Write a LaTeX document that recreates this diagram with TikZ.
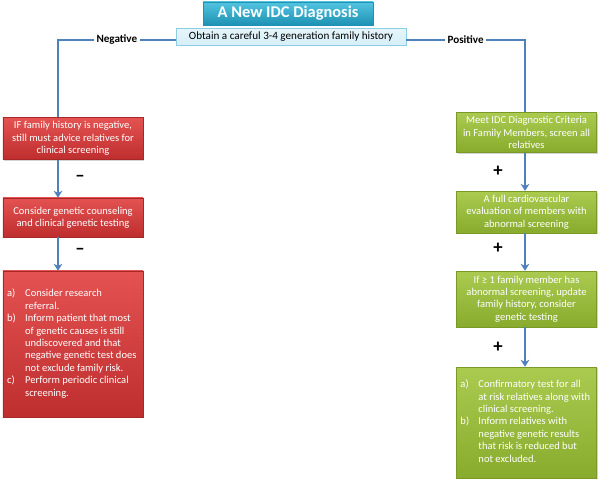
\documentclass[tikz,border=0pt]{standalone}
\usepackage{xcolor}
\usepackage{fontspec}
\setmainfont{Carlito}
\usetikzlibrary{shapes,arrows.meta,positioning,calc,shadows}

\definecolor{flowblue}{HTML}{4F81BD}
\definecolor{titletop}{HTML}{52C4E0}
\definecolor{titlebottom}{HTML}{1E92B4}
\definecolor{historyfill}{HTML}{D6EEF8}
\definecolor{historyline}{HTML}{8CCDE6}
\definecolor{redtop}{HTML}{E45252}
\definecolor{redbottom}{HTML}{BF2E2E}
\definecolor{redline}{HTML}{A82828}
\definecolor{greentop}{HTML}{AACB50}
\definecolor{greenbottom}{HTML}{88AB2D}
\definecolor{greenline}{HTML}{7A9A28}

\begin{document}
\begin{tikzpicture}[x=0.03cm, y=-0.03cm,
    boxfont/.style={font=\fontsize{9}{10.6}\selectfont},
    casebox/.style={rectangle, minimum width=4.2cm, align=center, text=white, boxfont,
        drop shadow={shadow xshift=1pt, shadow yshift=-1.2pt, opacity=0.35}},
    redbox/.style={casebox, draw=redline, top color=redtop, bottom color=redbottom},
    greenbox/.style={casebox, draw=greenline, top color=greentop, bottom color=greenbottom},
    flowline/.style={draw=flowblue, line width=1.6pt},
    flowarrow/.style={flowline, -{Stealth[length=6pt, width=7.5pt]}},
    branchlabel/.style={fill=white, inner sep=2pt, font=\fontsize{9.5}{10}\selectfont\bfseries},
    signlabel/.style={midway, font=\fontsize{16}{16}\selectfont\bfseries}]
\useasboundingbox (0,0) rectangle (600,483);

\node[draw=titlebottom, rectangle, minimum width=5.1cm, minimum height=0.69cm,
    top color=titletop, bottom color=titlebottom, text=white,
    font=\fontsize{14}{15}\selectfont\bfseries,
    drop shadow={shadow xshift=1pt, shadow yshift=-1.2pt, opacity=0.35}] (title) at (288,13.5) {A New IDC Diagnosis};
\node[draw=historyline, rectangle, minimum width=6.9cm, minimum height=0.51cm, inner ysep=1pt,
    top color=historyfill!60, bottom color=historyfill, font=\fontsize{9.5}{10}\selectfont] (history) at (291,37) {Obtain a careful 3-4 generation family history};

\coordinate (negturn) at (58,40);
\coordinate (posturn) at (525,40);

\node[redbox, minimum height=1.17cm] (neg1) at (73,138.5) {IF family history is negative,\\still must advice relatives for\\clinical screening};
\node[redbox, minimum height=1.17cm] (neg2) at (73,217.5) {Consider genetic counseling\\and clinical genetic testing};
\node[redbox, minimum height=4.38cm] (neg3) at (73,344) {
    \begin{tabular}{@{}p{0.54cm}@{}l@{}}
    a) & Consider research \\
       & referral. \\
    b) & Inform patient that most \\
       & of genetic causes is still \\
       & undiscovered and that \\
       & negative genetic test does \\
       & not exclude family risk. \\
    c) & Perform periodic clinical \\
       & screening.
    \end{tabular}
};

\node[greenbox, minimum height=1.17cm] (pos1) at (526.5,132.5) {Meet IDC Diagnostic Criteria\\in Family Members, screen all\\relatives};
\node[greenbox, minimum height=1.2cm] (pos2) at (526.5,212) {A full cardiovascular\\evaluation of members with\\abnormal screening};
\node[greenbox, minimum height=1.68cm] (pos3) at (526.5,299) {If ≥ 1 family member has\\abnormal screening, update\\family history, consider\\genetic testing};
\node[greenbox, minimum height=3.33cm] (pos4) at (526.5,422.5) {
    \begin{tabular}{@{}p{0.54cm}@{}l@{}}
    a) & Confirmatory test for all \\
       & at risk relatives along with \\
       & clinical screening. \\
    b) & Inform relatives with \\
       & negative genetic results \\
       & that risk is reduced but \\
       & not excluded.
    \end{tabular}
};

\draw[flowline] (history.west |- negturn) -- node[branchlabel] {Negative} (negturn) -- (neg1.north -| negturn);
\draw[flowline] (history.east |- posturn) -- node[branchlabel] {Positive} (posturn) -- (pos1.north -| posturn);

\draw[flowarrow] (neg1.south -| negturn) -- node[signlabel, xshift=0.66cm] {–} (neg2.north -| negturn);
\draw[flowarrow] (neg2.south -| negturn) -- node[signlabel, xshift=0.66cm, yshift=0.08cm] {–} (neg3.north -| negturn);

\draw[flowarrow] (pos1.south -| posturn) -- node[signlabel, xshift=-0.81cm] {+} (pos2.north -| posturn);
\draw[flowarrow] (pos2.south -| posturn) -- node[signlabel, xshift=-0.81cm, yshift=0.1cm] {+} (pos3.north -| posturn);
\draw[flowarrow] (pos3.south -| posturn) -- node[signlabel, xshift=-0.81cm] {+} (pos4.north -| posturn);
\end{tikzpicture}
\end{document}
